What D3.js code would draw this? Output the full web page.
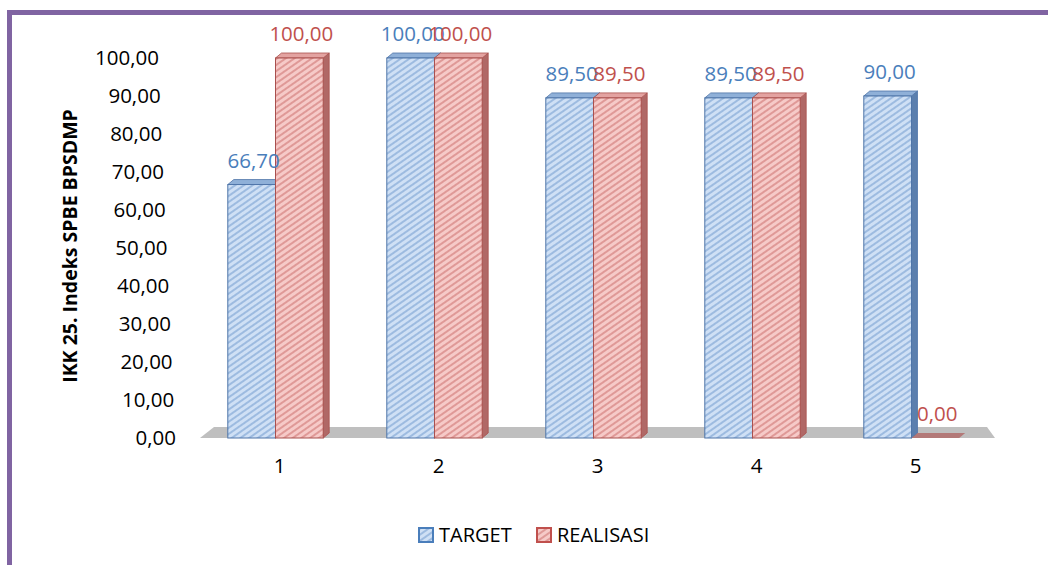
<!DOCTYPE html>
<html><head><meta charset="utf-8">
<script src="https://cdn.jsdelivr.net/npm/d3@7"></script>
<style>
html,body{margin:0;padding:0;background:#fff;}
svg{display:block;font-family:"Open Sans","Noto Sans",sans-serif;}
</style></head>
<body><svg id="c" width="1048" height="565"></svg>
<script>
const categories = ["1","2","3","4","5"];
const seriesNames = ["TARGET","REALISASI"];
const targetValues = [66.70, 100.00, 89.50, 89.50, 90.00];
const realisasiValues = [100.00, 100.00, 89.50, 89.50, 0.00];
const yTicks = [0,10,20,30,40,50,60,70,80,90,100];

const svg = d3.select("#c");
const defs = svg.append("defs");
const styles = {
  TARGET:   {bg:"#cfe0f5", stripe:"#9dbbe0", edge:"#4f75a8", side:"#5b7fae", top:"#8fb0d8", label:"#4a7ebb"},
  REALISASI:{bg:"#f6cac8", stripe:"#df9997", edge:"#a9504e", side:"#b06866", top:"#e3a3a1", label:"#c0504d"}
};
seriesNames.forEach(s=>{
  const p = defs.append("pattern").attr("id","hatch-"+s).attr("patternUnits","userSpaceOnUse")
    .attr("width",5).attr("height",5).attr("patternTransform","rotate(-35)");
  p.append("rect").attr("width",5).attr("height",5).attr("fill",styles[s].bg);
  p.append("rect").attr("width",5).attr("height",2).attr("fill",styles[s].stripe);
});

// purple frame
svg.append("rect").attr("x",7).attr("y",10).attr("width",1100).attr("height",5).attr("fill","#8064a2");
svg.append("rect").attr("x",7).attr("y",10).attr("width",5).attr("height",600).attr("fill","#8064a2");

const y = d3.scaleLinear().domain([0,100]).range([438,58]);
const x0 = d3.scaleBand().domain(categories).range([200,995]).paddingInner(0.4).paddingOuter(0.2);
const x1 = d3.scaleBand().domain(seriesNames).range([0,x0.bandwidth()]);

// floor
svg.append("path").attr("d",`M200,${y(0)} L995,${y(0)} L987,${y(0)-11} L214,${y(0)-11} Z`).attr("fill","#bfbfbf");

const fam = "'Open Sans','Noto Sans',sans-serif";
// y axis labels (no line)
const yAxis = d3.axisLeft(y).tickValues(yTicks).tickSize(0).tickPadding(0)
  .tickFormat(d=>d3.format(".2f")(d).replace(".",","));
const ga = svg.append("g").attr("transform","translate(176,0)").call(yAxis);
ga.select(".domain").remove();
ga.selectAll("text").attr("font-size",20.5).attr("fill","#000").attr("font-family",fam)
  .attr("dx",function(d){return -(y(0)-y(d))*0.045;});

// x axis labels
const xAxis = d3.axisBottom(x0).tickSize(0).tickPadding(0);
const gx = svg.append("g").attr("transform","translate(0,458)").call(xAxis);
gx.select(".domain").remove();
gx.selectAll("text").attr("font-size",20.5).attr("fill","#000").attr("font-family",fam);

// bars
const dx=6, dy=5;
const data = categories.map((c,i)=>({c, vals:[{s:"TARGET",v:targetValues[i]},{s:"REALISASI",v:realisasiValues[i]}]}));
const groups = svg.append("g").selectAll("g").data(data).join("g")
  .attr("transform",d=>`translate(${x0(d.c)-4},0)`);
groups.each(function(d){
  const g = d3.select(this);
  d.vals.forEach(o=>{
    const st = styles[o.s];
    const xl = x1(o.s), w = x1.bandwidth(), yt = y(o.v), yb = y(0);
    if(o.v>0){
      g.append("path").attr("d",`M${xl+w},${yt} L${xl+w+dx},${yt-dy} L${xl+w+dx},${yb-dy} L${xl+w},${yb} Z`)
        .attr("fill",st.side).attr("stroke",st.edge).attr("stroke-width",0.8);
      g.append("path").attr("d",`M${xl},${yt} L${xl+dx},${yt-dy} L${xl+w+dx},${yt-dy} L${xl+w},${yt} Z`)
        .attr("fill",st.top).attr("stroke",st.edge).attr("stroke-width",0.8);
      g.append("rect").attr("x",xl).attr("y",yt).attr("width",w).attr("height",yb-yt)
        .attr("fill",`url(#hatch-${o.s})`).attr("stroke",st.edge).attr("stroke-width",1);
    } else {
      g.append("path").attr("d",`M${xl},${yb} L${xl+w},${yb} L${xl+w+dx},${yb-dy} L${xl+dx},${yb-dy} Z`)
        .attr("fill",st.side).attr("opacity",0.8);
    }
  });
  d.vals.forEach(o=>{
    const st = styles[o.s];
    g.append("text").attr("x",x1(o.s)+x1.bandwidth()/2+2).attr("y",y(o.v)-17)
      .attr("text-anchor","middle").attr("font-size",20.5).attr("fill",st.label).attr("font-family",fam)
      .text(d3.format(".2f")(o.v).replace(".",","));
  });
});

// y title
svg.append("text").attr("transform","translate(77,246) rotate(-90)").attr("text-anchor","middle")
  .attr("font-size",19.5).attr("font-weight","bold").attr("fill","#000").attr("font-family",fam)
  .text("IKK 25. Indeks SPBE BPSDMP");

// legend
const legend = svg.append("g");
const legendX = [419, 537];
seriesNames.forEach((s,i)=>{
  const st = styles[s];
  const lg = legend.append("g").attr("transform",`translate(${legendX[i]},528)`);
  lg.append("rect").attr("width",14).attr("height",14).attr("fill",`url(#hatch-${s})`).attr("stroke",st.label).attr("stroke-width",2);
  lg.append("text").attr("x",20).attr("y",14).attr("font-size",20).attr("fill","#000").attr("font-family",fam).text(s);
});
</script></body></html>
